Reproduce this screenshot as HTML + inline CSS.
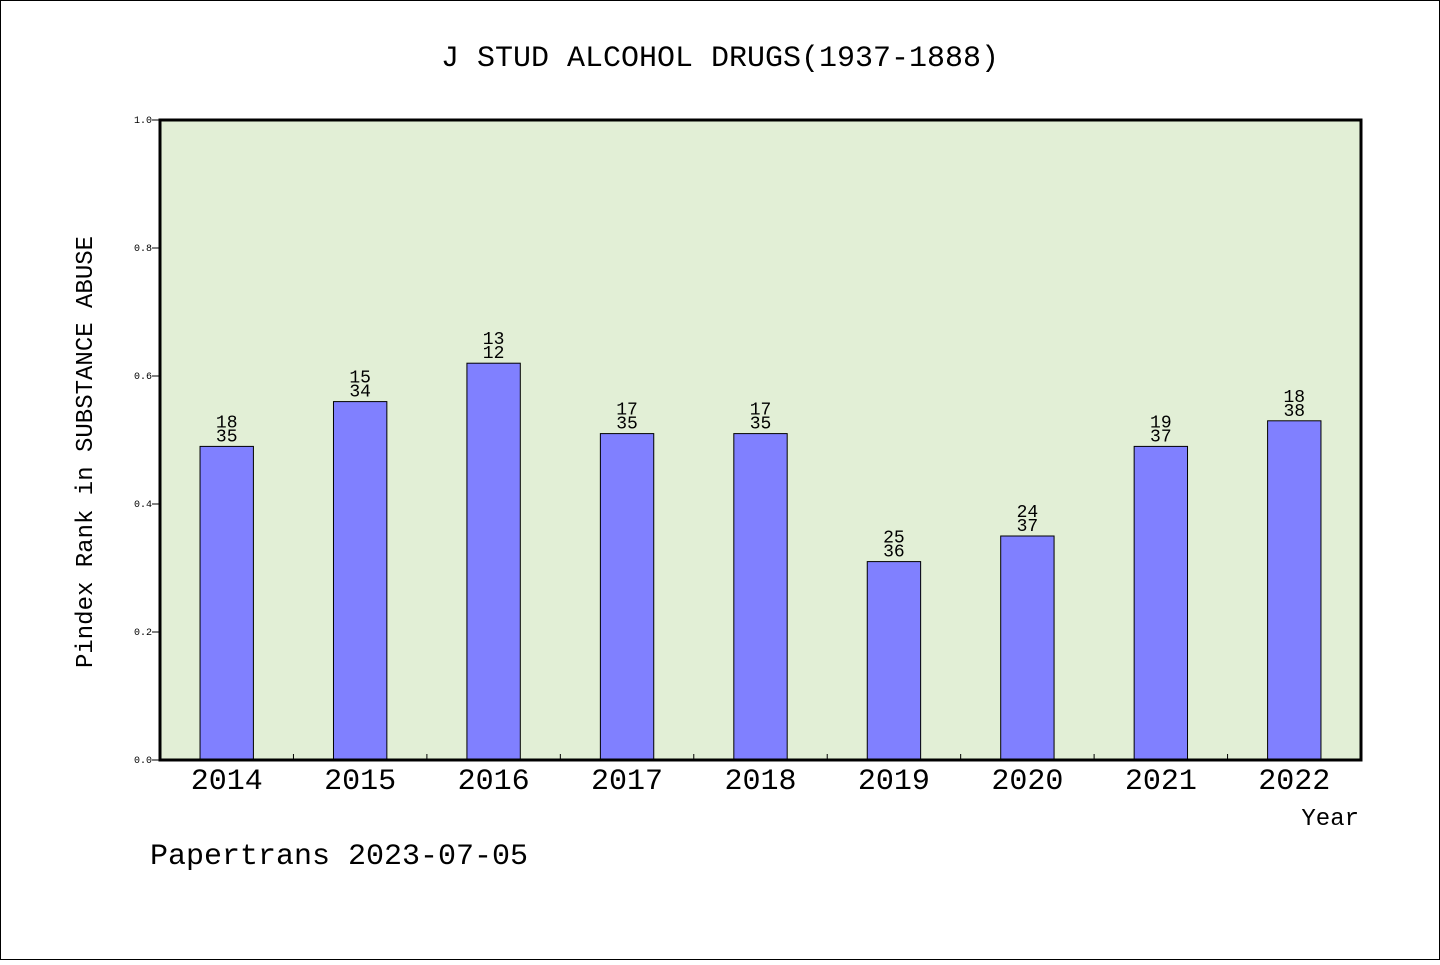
<!DOCTYPE html>
<html><head><meta charset="utf-8"><style>
body{margin:0;background:#fff}
svg text{font-family:"WenQuanYi Zen Hei","Liberation Mono",monospace}
</style></head><body>
<svg width="1440" height="960" xmlns="http://www.w3.org/2000/svg">
<rect x="0.5" y="0.5" width="1439" height="959" fill="#fff" stroke="#000"/>
<text x="720" y="66" font-size="30" text-anchor="middle">J STUD ALCOHOL DRUGS(1937-1888)</text>
<rect x="160" y="120" width="1201" height="640" fill="#e2efd6"/>
<g id="bars"></g>
<rect x="160" y="120" width="1201" height="640" fill="none" stroke="#000" stroke-width="3"/>
<g id="axes"></g>
<text x="92" y="452" font-size="24" text-anchor="middle" transform="rotate(-90 92 452)">Pindex Rank in SUBSTANCE ABUSE</text>
<text x="1359" y="825" font-size="24" text-anchor="end">Year</text>
<text x="150" y="864" font-size="30">Papertrans 2023-07-05</text>
</svg>
<script>
const years=["2014","2015","2016","2017","2018","2019","2020","2021","2022"];
const values=[0.49,0.56,0.62,0.51,0.51,0.31,0.35,0.49,0.53];
const topLabels=["18","15","13","17","17","25","24","19","18"];
const bottomLabels=["35","34","12","35","35","36","37","37","38"];
const yTicks=[0,0.2,0.4,0.6,0.8,1.0];
const NS="http://www.w3.org/2000/svg";
const X0=160,X1=1361,Y0=760,Y1=120;
const band=(X1-X0)/years.length;
const xC=i=>X0+band*(i+0.5);
const yS=v=>Y0-(Y0-Y1)*v;
function mk(tag,attrs,parent){const e=document.createElementNS(NS,tag);for(const k in attrs)e.setAttribute(k,attrs[k]);parent.appendChild(e);return e;}
const bg=document.getElementById('bars'),ag=document.getElementById('axes');
const bw=band*0.4;
years.forEach((y,i)=>{
  const r=mk('rect',{x:xC(i)-bw/2,y:yS(values[i]),width:bw,height:Y0-yS(values[i]),fill:'#8080ff',stroke:'#000','stroke-width':1},bg);
  
  
  const t1=mk('text',{x:xC(i),y:yS(values[i])-19,'font-size':18,'text-anchor':'middle'},bg);t1.textContent=topLabels[i];
  
  
  const t2=mk('text',{x:xC(i),y:yS(values[i])-5,'font-size':18,'text-anchor':'middle'},bg);t2.textContent=bottomLabels[i];
  
  
  const xt=mk('text',{x:xC(i),y:789,'font-size':30,'text-anchor':'middle'},ag);xt.textContent=y;
  
  
  if(i>0){const tk=mk('line',{x1:X0+band*i,x2:X0+band*i,y1:Y0,y2:Y0-6,stroke:'#000','stroke-width':1},ag);
  
  }
});
yTicks.forEach(v=>{
  const l=mk('line',{x1:X0-8,x2:X0,y1:yS(v),y2:yS(v),stroke:'#000','stroke-width':1},ag);
  
  
  const t=mk('text',{x:152,y:yS(v)+3,'font-size':10,'text-anchor':'end','font-family':'Liberation Sans'},ag);t.textContent=v.toFixed(1);
  
  
});
</script>
</body></html>
